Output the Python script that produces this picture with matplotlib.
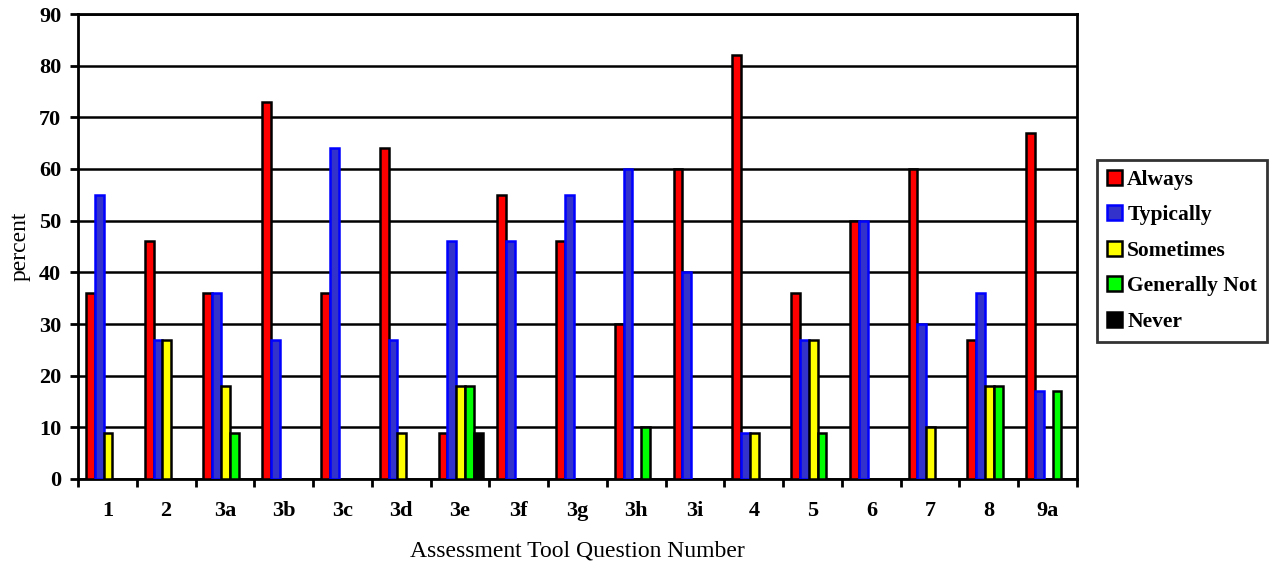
import numpy as np
import matplotlib
matplotlib.use("Agg")
import matplotlib.pyplot as plt
from matplotlib.patches import Patch
from matplotlib.ticker import FixedLocator, NullFormatter, FixedFormatter

categories = ["1", "2", "3a", "3b", "3c", "3d", "3e", "3f", "3g", "3h", "3i",
              "4", "5", "6", "7", "8", "9a"]
always = [36, 46, 36, 73, 36, 64, 9, 55, 46, 30, 60, 82, 36, 50, 60, 27, 67]
typically = [55, 27, 36, 27, 64, 27, 46, 46, 55, 60, 40, 9, 27, 50, 30, 36, 17]
sometimes = [9, 27, 18, 0, 0, 9, 18, 0, 0, 0, 0, 9, 27, 0, 10, 18, 0]
generally_not = [0, 0, 9, 0, 0, 0, 18, 0, 0, 10, 0, 0, 9, 0, 0, 18, 17]
never = [0, 0, 0, 0, 0, 0, 9, 0, 0, 0, 0, 0, 0, 0, 0, 0, 0]
series_names = ["Always", "Typically", "Sometimes", "Generally Not", "Never"]

plt.rcParams['font.family'] = ['Liberation Serif', 'DejaVu Serif']

fig = plt.figure(figsize=(12.74, 5.71), dpi=100)
ax = fig.add_axes([78/1274, 92/571, (1077-78)/1274, (479-14)/571])

series = [always, typically, sometimes, generally_not, never]
fills = ["#FF0000", "#3333CC", "#FFFF00", "#00FF00", "#000000"]
edges = ["#000000", "#0000FF", "#000000", "#000000", "#000000"]
n = len(categories)
x = np.arange(n) + 0.5
w = 0.15
handles = []
for i, (vals, fc, ec, name) in enumerate(zip(series, fills, edges, series_names)):
    v = np.array(vals, dtype=float)
    lw = np.where(v > 0, 1.8, 0.0)
    offs = (i - 2) * w + 0.01
    ax.bar(x + offs, v, width=w, color=fc, edgecolor=ec, linewidth=lw, zorder=3)
    handles.append(Patch(facecolor=fc, edgecolor=ec, linewidth=1.8, label=name))

ax.set_xlim(0, n)
ax.set_ylim(0, 90)
ax.set_yticks(np.arange(0, 91, 10))
ax.yaxis.grid(True, color="black", linewidth=1.8, zorder=0)
ax.set_axisbelow(True)

ax.xaxis.set_major_locator(FixedLocator(np.arange(0, n + 1)))
ax.xaxis.set_major_formatter(NullFormatter())
ax.xaxis.set_minor_locator(FixedLocator(x))
ax.xaxis.set_minor_formatter(FixedFormatter(categories))
ax.tick_params(axis="x", which="major", direction="out", length=6, width=2)
ax.tick_params(axis="x", which="minor", length=0, pad=16)
ax.tick_params(axis="y", direction="out", length=6, width=2, pad=6)
for lab in ax.get_xticklabels(minor=True) + ax.get_yticklabels():
    lab.set_fontweight("bold")
    lab.set_fontsize(16)

for s in ax.spines.values():
    s.set_linewidth(2)
    s.set_color("black")

ax.set_ylabel("percent", fontsize=17, labelpad=6)
ax.set_xlabel("Assessment Tool Question Number", fontsize=17, labelpad=14)

leg = fig.legend(handles=handles, loc="upper left",
                 bbox_to_anchor=(1097/1274, 1 - 160/571),
                 prop={"weight": "bold", "size": 15.5},
                 frameon=True, fancybox=False, edgecolor="black",
                 handlelength=0.7, handleheight=0.7, handletextpad=0.25,
                 labelspacing=0.72, borderpad=0.45, borderaxespad=0)
leg.get_frame().set_linewidth(2)

fig.savefig("out.png", dpi=100)
